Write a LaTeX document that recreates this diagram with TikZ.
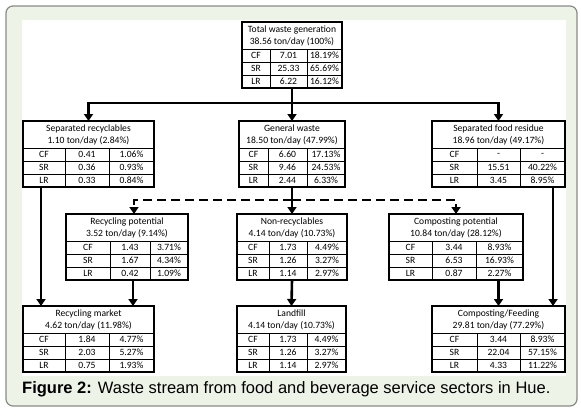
\documentclass[tikz,border=0pt]{standalone}
\usepackage{fontspec}
\setmainfont{Carlito}
\newfontfamily\capfont{Liberation Sans}
\usetikzlibrary{arrows.meta,calc}
\definecolor{framefill}{HTML}{EEF3E8}
\definecolor{framedraw}{HTML}{8A8A8A}
\tikzset{
  boxframe/.style={draw=black,line width=1.8pt,inner sep=0pt,outer sep=0pt,anchor=north west,minimum height=66pt},
  gridline/.style={line width=0.6pt},
  txt/.style={inner sep=0pt,font=\fontsize{9.6}{10}\selectfont},
  conn/.style={line width=2.6pt,-{Triangle[width=9pt,length=7pt]}},
  plainconn/.style={line width=2.6pt},
  dashconn/.style={dash pattern=on 9pt off 5pt},
}
\newcommand\wbox[6]{%
  \gdef\wbXa{#2}\gdef\wbY{#3}\gdef\wbXb{#4}\gdef\wbCa{#5}\gdef\wbCb{#6}%
  \draw[gridline] (#2,{#3+27}) -- (#4,{#3+27});
  \draw[gridline] (#2,{#3+40}) -- (#4,{#3+40});
  \draw[gridline] (#2,{#3+53}) -- (#4,{#3+53});
  \draw[gridline] (#5,{#3+27}) -- (#5,{#3+66});
  \draw[gridline] (#6,{#3+27}) -- (#6,{#3+66});
  \node[boxframe,minimum width={(#4-#2)*1pt}] (#1) at (#2,#3) {};
}
\newcommand\wtext[9]{%
  \node[txt] (#1-h1) at ({(\wbXa+\wbXb)/2},{\wbY+7.5}) {#2};
  \node[txt] (#1-h2) at ({(\wbXa+\wbXb)/2},{\wbY+20}) {#3};
  \node[txt] (#1-l1) at ({(\wbXa+\wbCa)/2},{\wbY+33.5}) {CF};
  \node[txt] (#1-l2) at ({(\wbXa+\wbCa)/2},{\wbY+46.5}) {SR};
  \node[txt] (#1-l3) at ({(\wbXa+\wbCa)/2},{\wbY+59.5}) {LR};
  \node[txt] (#1-a1) at ({(\wbCa+\wbCb)/2},{\wbY+33.5}) {#4};
  \node[txt] (#1-b1) at ({(\wbCb+\wbXb)/2},{\wbY+33.5}) {#5};
  \node[txt] (#1-a2) at ({(\wbCa+\wbCb)/2},{\wbY+46.5}) {#6};
  \node[txt] (#1-b2) at ({(\wbCb+\wbXb)/2},{\wbY+46.5}) {#7};
  \node[txt] (#1-a3) at ({(\wbCa+\wbCb)/2},{\wbY+59.5}) {#8};
  \node[txt] (#1-b3) at ({(\wbCb+\wbXb)/2},{\wbY+59.5}) {#9};
}
\begin{document}
\begin{tikzpicture}[x=1pt,y=-1pt]
\useasboundingbox (0,0) rectangle (581,416);
\draw[framedraw,fill=framefill,line width=1.2pt,rounded corners=7pt] (6,6) rectangle (577,406);
\fill[white] (22,20) rectangle (566,376);

% boxes
\wbox{tot}{242}{22}{342}{270}{307}
\wtext{tot}{Total waste generation}{38.56 ton/day (100\%)}{7.01}{18.19\%}{25.33}{65.69\%}{6.22}{16.12\%}

\wbox{sr}{23}{121}{154}{65}{109}
\wtext{sr}{Separated recyclables}{1.10 ton/day (2.84\%)}{0.41}{1.06\%}{0.36}{0.93\%}{0.33}{0.84\%}

\wbox{gw}{239}{121}{345}{268}{307}
\wtext{gw}{General waste}{18.50 ton/day (47.99\%)}{6.60}{17.13\%}{9.46}{24.53\%}{2.44}{6.33\%}

\wbox{fr}{432}{121}{565}{477}{520}
\wtext{fr}{Separated food residue}{18.96 ton/day (49.17\%)}{-}{-}{15.51}{40.22\%}{3.45}{8.95\%}

\wbox{rp}{66}{214}{188}{110}{150}
\wtext{rp}{Recycling potential}{3.52 ton/day (9.14\%)}{1.43}{3.71\%}{1.67}{4.34\%}{0.42}{1.09\%}

\wbox{nr}{237}{214}{347}{269}{307}
\wtext{nr}{Non-recyclables}{4.14 ton/day (10.73\%)}{1.73}{4.49\%}{1.26}{3.27\%}{1.14}{2.97\%}

\wbox{cp}{389}{214}{523}{432}{476}
\wtext{cp}{Composting potential}{10.84 ton/day (28.12\%)}{3.44}{8.93\%}{6.53}{16.93\%}{0.87}{2.27\%}

\wbox{rm}{23}{306}{154}{65}{109}
\wtext{rm}{Recycling market}{4.62 ton/day (11.98\%)}{1.84}{4.77\%}{2.03}{5.27\%}{0.75}{1.93\%}

\wbox{lf}{237}{306}{346}{269}{307}
\wtext{lf}{Landfill}{4.14 ton/day (10.73\%)}{1.73}{4.49\%}{1.26}{3.27\%}{1.14}{2.97\%}

\wbox{cf}{432}{306}{565}{477}{520}
\wtext{cf}{Composting/Feeding}{29.81 ton/day (77.29\%)}{3.44}{8.93\%}{22.04}{57.15\%}{4.33}{11.22\%}

% connectors
\coordinate (jt) at (292,103);
\draw[plainconn] (tot.south) -- (jt);
\draw[conn] (jt) -| (sr.north);
\draw[conn] (jt) -- (gw.north);
\draw[conn] (jt) -| (fr.north);

\coordinate (jg) at (292,200);
\coordinate (rpi) at ([xshift=7pt]rp.north);
\draw[plainconn] (gw.south) -- (jg);
\draw[conn,dashconn] (jg) -| (rpi);
\draw[conn,dashconn] (jg) -- (nr.north);
\draw[conn,dashconn] (jg) -| (cp.north);

\coordinate (sro) at ([xshift=18pt]sr.south west);
\coordinate (fro) at ([xshift=-12pt]fr.south east);
\coordinate (rpo) at ([xshift=6pt]rp.south);
\coordinate (cpo) at (cf.north |- cp.south);
\draw[conn] (sro) -- (sro |- rm.north);
\draw[conn] (rpo) -- (rpo |- rm.north);
\draw[conn] (nr.south) -- (lf.north);
\draw[conn] (cpo) -- (cf.north);
\draw[conn] (fro) -- (fro |- cf.north);

\node[anchor=base west,inner sep=0pt,font=\capfont\fontsize{16.5}{18}\selectfont] (cap) at (22,393)
  {\textbf{Figure 2:} Waste stream from food and beverage service sectors in Hue.};
\end{tikzpicture}
\end{document}
